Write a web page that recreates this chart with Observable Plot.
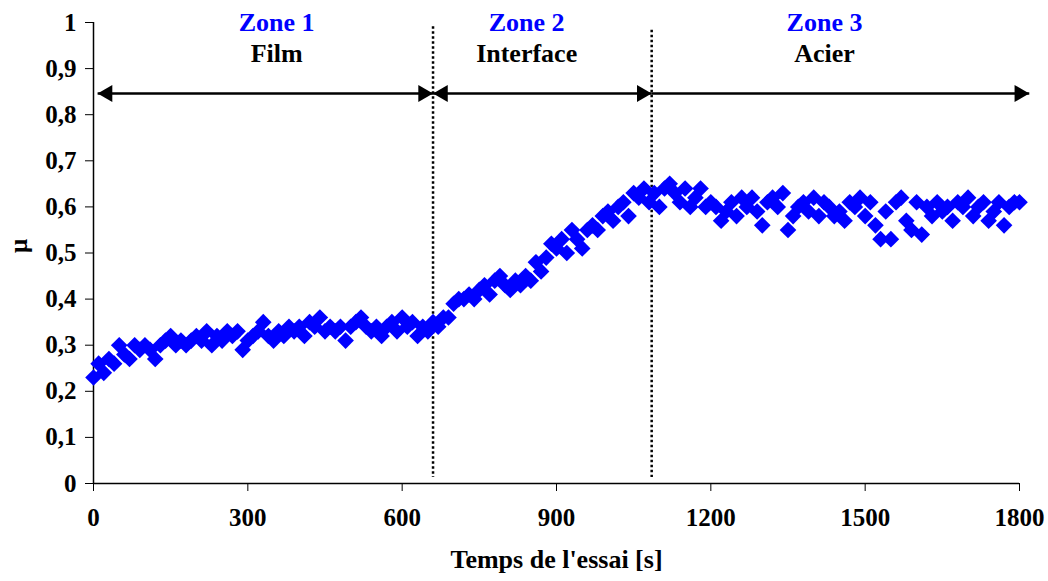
<!DOCTYPE html>
<html><head><meta charset="utf-8">
<script src="https://cdn.jsdelivr.net/npm/d3@7"></script>
<script src="https://cdn.jsdelivr.net/npm/@observablehq/plot@0.6"></script>
<style>body{margin:0;background:#fff}</style>
</head><body><div id="chart"></div>
<script>
// Data: time (s) and friction coefficient μ
const times = [0,10,20,30,40,50,60,70,80,90,100,110,120,130,140,150,160,170,180,190,200,210,220,230,240,250,260,270,280,290,300,310,320,330,340,350,360,370,380,390,400,410,420,430,440,450,460,470,480,490,500,510,520,530,540,550,560,570,580,590,600,610,620,630,640,650,
660,670,680,690,700,710,720,730,740,750,760,770,780,790,800,810,820,830,840,850,860,870,880,890,900,910,920,930,940,950,960,970,980,990,1000,1010,1020,1030,1040,1050,1060,1070,1080,
1090,1100,1110,1120,1130,1140,1150,1160,1170,1180,1190,1200,1210,1220,1230,1240,1250,1260,1270,1280,1290,1300,1310,1320,1330,1340,1350,1360,1370,1380,1390,1400,1410,1420,1430,1440,1450,1460,1470,1480,1490,1500,1510,1520,1530,1540,1550,1560,1570,1580,1590,1600,1610,1620,1630,1640,1650,1660,1670,1680,1690,1700,1710,1720,1730,1740,1750,1760,1770,1780,1790,1800];
const mu = [0.23,0.26,0.24,0.27,0.26,0.30,0.28,0.27,0.30,0.29,0.30,0.29,0.27,0.30,0.31,0.32,0.30,0.31,0.30,0.31,0.32,0.31,0.33,0.30,0.32,0.31,0.33,0.32,0.33,0.29,0.31,0.32,0.33,0.35,0.32,0.31,0.33,0.32,0.34,0.33,0.34,0.32,0.35,0.34,0.36,0.33,0.34,0.33,0.34,0.31,0.34,0.35,0.36,0.34,0.33,0.34,0.32,0.34,0.35,0.33,0.36,0.34,0.35,0.32,0.34,0.33,
0.35,0.34,0.36,0.36,0.39,0.40,0.40,0.41,0.40,0.42,0.43,0.41,0.44,0.45,0.43,0.42,0.44,0.43,0.45,0.44,0.48,0.46,0.49,0.52,0.51,0.53,0.50,0.55,0.53,0.51,0.55,0.56,0.55,0.58,0.59,0.57,0.60,0.61,0.58,0.63,0.62,0.64,0.61,
0.63,0.60,0.64,0.65,0.63,0.61,0.64,0.60,0.62,0.64,0.60,0.61,0.60,0.57,0.59,0.61,0.58,0.62,0.60,0.62,0.59,0.56,0.61,0.62,0.60,0.63,0.55,0.58,0.60,0.61,0.59,0.62,0.58,0.61,0.60,0.58,0.59,0.57,0.61,0.60,0.62,0.58,0.61,0.56,0.53,0.59,0.53,0.61,0.62,0.57,0.55,0.61,0.54,0.60,0.58,0.61,0.59,0.60,0.57,0.61,0.60,0.62,0.58,0.60,0.61,0.57,0.59,0.61,0.56,0.60,0.61,0.61];

const xTicks = [0,300,600,900,1200,1500,1800];
const yTicks = [0,0.1,0.2,0.3,0.4,0.5,0.6,0.7,0.8,0.9,1];

// Annotations
const zoneNames = ["Zone 1","Zone 2","Zone 3"];
const zoneMaterials = ["Film","Interface","Acier"];
const zoneCenters = [356, 842, 1421];
const boundaries = [660, 1085];
const boundaryTops = [0.991, 0.983];
const arrowStarts = [8, 660, 1085];
const arrowEnds = [660, 1085, 1819];
const rightHeads = [660, 1085, 1819];
const leftHeads = [8, 660];
const arrowY = 0.846;
const zoneNameY = 1.0;
const zoneMaterialY = 0.933;

const data = times.map((t, i) => ({t, mu: mu[i]}));
const zones = zoneNames.map((n, i) => ({name: n, material: zoneMaterials[i], x: zoneCenters[i]}));
const bounds = boundaries.map((b, i) => ({x: b, top: boundaryTops[i]}));
const arrows = arrowStarts.map((s, i) => ({x1: s, x2: arrowEnds[i]}));

const chart = Plot.plot({
  width: 1048, height: 581,
  marginLeft: 93, marginRight: 29, marginTop: 22, marginBottom: 98,
  x: {domain: [0, 1800]},
  y: {domain: [0, 1]},
  style: {fontFamily: "'Liberation Serif', 'Times New Roman', serif", fontWeight: "bold", fontSize: "25px", color: "black", background: "white", overflow: "visible"},
  marks: [
    Plot.axisX({ticks: xTicks, tickSize: 8, tickPadding: 17, label: null, tickFormat: d => String(d)}),
    Plot.axisY({ticks: yTicks, tickSize: 8, tickPadding: 9, label: null, tickFormat: d => String(d).replace(".", ",")}),
    Plot.ruleX([0], {y1: 0, y2: 1, stroke: "black", strokeWidth: 1.5}),
    Plot.ruleY([0], {x1: 0, x2: 1800, stroke: "black", strokeWidth: 1.5}),
    Plot.ruleX(bounds, {x: "x", y1: "top", y2: 0.013, stroke: "black", strokeWidth: 2.5, strokeDasharray: "2.5,2.5"}),
    Plot.dot(data, {x: "t", y: "mu", symbol: "diamond2", r: 7.5, fill: "#0000ff", stroke: "none"}),
    Plot.link(arrows, {x1: "x1", x2: "x2", y1: arrowY, y2: arrowY, stroke: "black", strokeWidth: 2.5}),
    Plot.dot(rightHeads, {x: d => d, y: arrowY, symbol: "triangle", r: 6.3, rotate: 90, dx: -9.8, fill: "black", stroke: "none"}),
    Plot.dot(leftHeads, {x: d => d, y: arrowY, symbol: "triangle", r: 6.3, rotate: -90, dx: 9.8, fill: "black", stroke: "none"}),
    Plot.text(zones, {x: "x", y: zoneNameY, text: "name", fill: "#0000ff", fontSize: 26}),
    Plot.text(zones, {x: "x", y: zoneMaterialY, text: "material", fill: "black", fontSize: 26}),
    Plot.text(["Temps de l'essai [s]"], {frameAnchor: "bottom", dy: 84, fontSize: 26}),
    Plot.text(["μ"], {frameAnchor: "left", dx: -75, rotate: -90, fontSize: 25})
  ]
});
document.getElementById("chart").appendChild(chart);
</script>
</body></html>
